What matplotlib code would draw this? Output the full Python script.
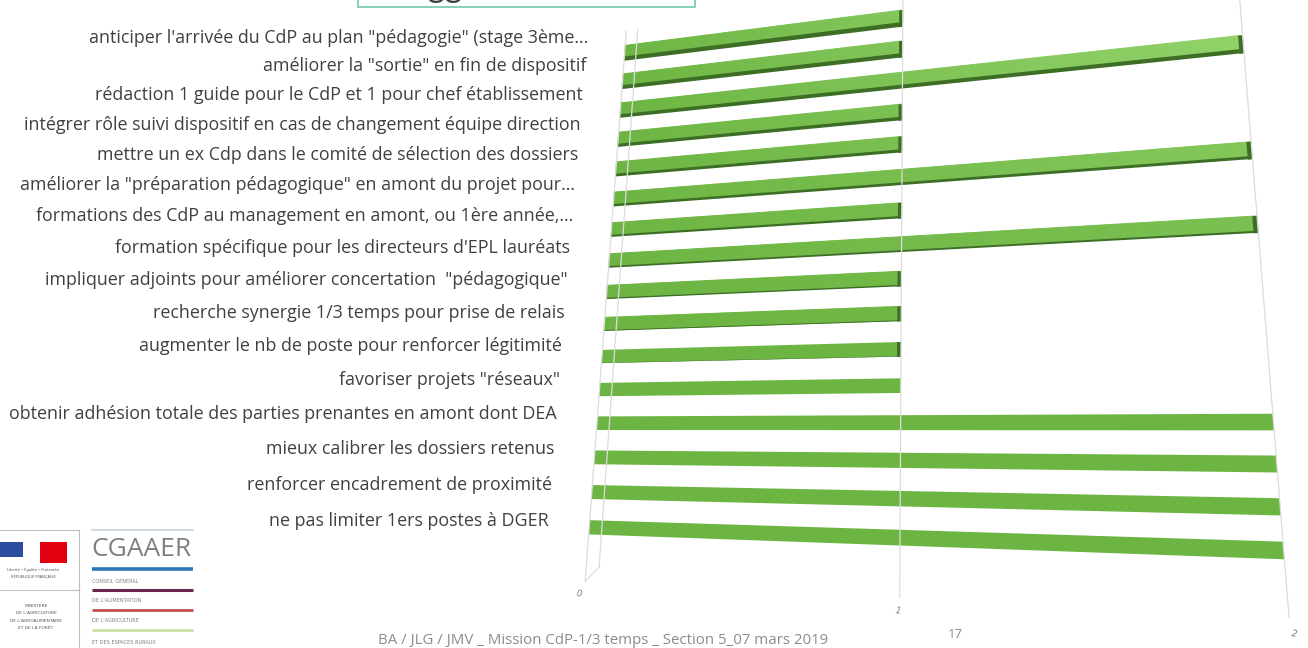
import numpy as np
import matplotlib
matplotlib.use("Agg")
import matplotlib.pyplot as plt
import matplotlib.transforms as mtransforms
from matplotlib.colors import to_rgb

# survey answers, top to bottom
labels = [
    "anticiper l'arrivée du CdP au plan \"pédagogie\" (stage 3ème...",
    "améliorer la \"sortie\" en fin de dispositif",
    "rédaction 1 guide pour le CdP et 1 pour chef établissement",
    "intégrer rôle suivi dispositif en cas de changement équipe direction",
    "mettre un ex Cdp dans le comité de sélection des dossiers",
    "améliorer la \"préparation pédagogique\" en amont du projet pour...",
    "formations des CdP au management en amont, ou 1ère année,...",
    "formation spécifique pour les directeurs d'EPL lauréats",
    "impliquer adjoints pour améliorer concertation  \"pédagogique\"",
    "recherche synergie 1/3 temps pour prise de relais",
    "augmenter le nb de poste pour renforcer légitimité",
    "favoriser projets \"réseaux\"",
    "obtenir adhésion totale des parties prenantes en amont dont DEA",
    "mieux calibrer les dossiers retenus",
    "renforcer encadrement de proximité",
    "ne pas limiter 1ers postes à DGER",
]
values = [1, 1, 2, 1, 1, 2, 1, 2, 1, 1, 1, 1, 2, 2, 2, 2]
ticks = [0, 1, 2]

footer = "BA / JLG / JMV _ Mission CdP-1/3 temps _ Section 5_07 mars 2019"
page_no = "17"

W, H = 1308, 648

# perspective of the chart plane: (value, row) -> pixel
calib_src = [(0, 0), (1, 0), (2, 2), (0, 15), (1, 15), (2, 15),
             (0, 11), (1, 11), (2, 12), (2, 5)]
calib_dst = [(625, 52), (903, 17), (1243, 40), (588, 526), (905, 537),
             (1282, 552), (598, 389), (901, 387), (1272, 423), (1252, 148)]


def fit_homography(src, dst):
    rows = []
    for (x, y), (u, v) in zip(src, dst):
        rows.append([x, y, 1, 0, 0, 0, -u * x, -u * y, -u])
        rows.append([0, 0, 0, x, y, 1, -v * x, -v * y, -v])
    _, _, vt = np.linalg.svd(np.array(rows, float))
    h = vt[-1].reshape(3, 3)
    return h / h[2, 2]


class Perspective(mtransforms.Transform):
    input_dims = 2
    output_dims = 2

    def __init__(self, mat):
        super().__init__()
        self.mat = mat

    def transform_non_affine(self, values):
        pts = np.atleast_2d(np.asarray(values, float))
        p = np.column_stack([pts, np.ones(len(pts))]) @ self.mat.T
        return p[:, :2] / p[:, 2:]


fig = plt.figure(figsize=(W / 100, H / 100), dpi=100)
ax = fig.add_axes([0, 0, 1, 1])
ax.set_autoscale_on(False)
ax.set_xlim(0, W)
ax.set_ylim(H, 0)
ax.axis("off")

proj = Perspective(fit_homography(calib_src, calib_dst)) + ax.transData

grid_c = "#dcdcdc"
for v in ticks:
    ax.plot([v, v], [-0.7, 16.5], color=grid_c, lw=0.9, transform=proj)
# side wall at the zero line
ax.plot([0.045, 0.045], [-0.7, 16.1], color=grid_c, lw=0.9, transform=proj)
ax.plot([0, 0.045], [16.5, 16.1], color=grid_c, lw=0.9, transform=proj)

base = np.array(to_rgb("#6db543"))
light = np.array(to_rgb("#99d872"))
dark = "#3d6e25"
bar_h = 0.40
nseg = 40

for r, v in enumerate(values):
    fade = max(0.0, 1 - r / 10)
    if fade > 0:
        lefts = np.linspace(0, v, nseg + 1)[:-1]
        widths = np.full(nseg, v / nseg)
        t = (lefts + widths / 2) / 2 * fade
        cols = [tuple(base + (light - base) * k) for k in t]
        ax.barh(np.full(nseg, r), widths, left=lefts, height=bar_h,
                color=cols, edgecolor=cols, linewidth=0.7, transform=proj)
    else:
        ax.barh(r, v, height=bar_h, color=tuple(base), linewidth=0,
                transform=proj)
    # dark underside and end cap, visible on the upper rows
    s = 0.15 * max(0.0, 1 - r / 11)
    if s > 0:
        ax.barh(r + bar_h / 2 + s / 2 - 0.01, v, height=s, color=dark,
                linewidth=0, transform=proj)
        ax.barh(r + s / 2, 0.012, left=v - 0.012, height=bar_h + s,
                color=dark, linewidth=0, transform=proj)

for v in ticks:
    ax.text(v - 0.02 + 0.015 * v, 16.85, str(v), transform=proj,
            ha="center", va="center", fontsize=6.5, style="italic",
            color="#7f7f7f", rotation=-10)

# category labels
for r, lab in enumerate(labels):
    x = 588.6 - 2.64 * r
    y = 38 + 28.02 * r + 0.2786 * r ** 2
    ax.text(x, y, lab, ha="right", va="center", fontsize=12.9,
            family="Open Sans", color="#404040")

# title box, cropped at the top of the slide
ax.add_patch(plt.Rectangle((358, -20), 337, 27, fill=False,
                           edgecolor="#86d0b4", lw=1.4))
ax.text(392, -3, "Suggestions", ha="left", va="baseline", fontsize=24,
        color="#404040", family="Lato")

# footer
ax.text(603, 640, footer, ha="center", va="center", fontsize=10.8,
        color="#8c8c8c", family="Open Sans")
ax.text(955, 634, page_no, ha="center", va="center", fontsize=9.5,
        color="#8c8c8c", family="Open Sans")

# ministry block
ax.plot([0, 79, 79], [530, 530, 648], color="#bfbfbf", lw=0.8)
ax.plot([0, 79], [590, 590], color="#bfbfbf", lw=0.8)
ax.add_patch(plt.Rectangle((0, 542), 23, 15, color="#2b4ea0", lw=0))
ax.add_patch(plt.Rectangle((40, 542), 27, 21, color="#e1000f", lw=0))
ax.text(33, 570, "Liberté • Égalité • Fraternité", ha="center", va="center",
        fontsize=2.6, color="#555555")
ax.text(33, 577, "RÉPUBLIQUE FRANÇAISE", ha="center", va="center",
        fontsize=2.6, color="#555555")
for i, line in enumerate(["MINISTÈRE", "DE L'AGRICULTURE",
                          "DE L'AGROALIMENTAIRE", "ET DE LA FORÊT"]):
    ax.text(36, 606 + 7.3 * i, line, ha="center", va="center",
            fontsize=3.2, color="#555555")

# CGAAER block
ax.plot([92, 193], [530, 530], color="#c9d3dc", lw=1.2)
ax.text(91, 550, "CGAAER", ha="left", va="center", fontsize=19,
        color="#7f7f7f", family="Open Sans")
cg_lines = [(569, "#2e75b6", 2.6), (590, "#6b2650", 2.2),
            (610, "#c0504d", 2.0), (630, "#c5dc9e", 1.8)]
for y, c, lw in cg_lines:
    ax.plot([92, 193], [y, y], color=c, lw=lw, solid_capstyle="butt")
for y, txt in [(581, "CONSEIL GÉNÉRAL"), (601, "DE L'ALIMENTATION"),
               (621, "DE L'AGRICULTURE"), (642, "ET DES ESPACES RURAUX")]:
    ax.text(92, y, txt, ha="left", va="center", fontsize=3.6,
            color="#7f7f7f")

fig.savefig("out.png", dpi=100)
